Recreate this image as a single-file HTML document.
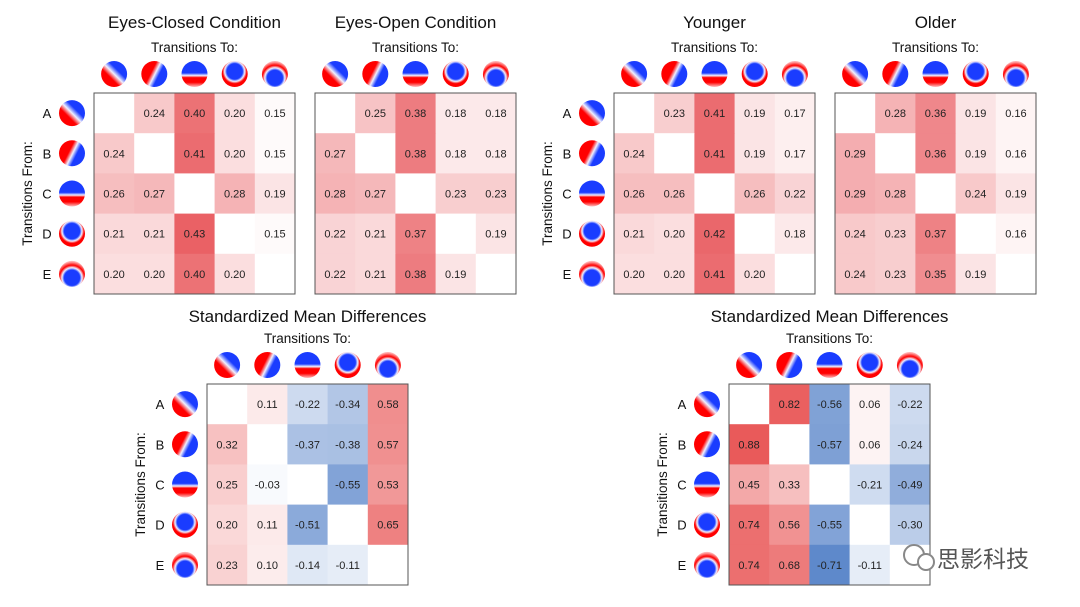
<!DOCTYPE html>
<html><head><meta charset="utf-8"><style>
html,body{margin:0;padding:0;background:#fff;}
svg{display:block;font-family:"Liberation Sans",Arial,sans-serif;}
</style></head><body>
<svg id="fig" width="1080" height="607" viewBox="0 0 1080 607" xmlns="http://www.w3.org/2000/svg">
<defs>
<linearGradient id="gA" x1="0" y1="1" x2="1" y2="0"><stop offset="0" stop-color="#f00"/><stop offset="0.36" stop-color="#f00"/><stop offset="0.5" stop-color="#f0f0ff"/><stop offset="0.64" stop-color="#1a3cff"/><stop offset="1" stop-color="#1a3cff"/></linearGradient>
<linearGradient id="gB" x1="0" y1="0.25" x2="1" y2="0.75"><stop offset="0" stop-color="#f00"/><stop offset="0.38" stop-color="#f00"/><stop offset="0.52" stop-color="#f0f0ff"/><stop offset="0.66" stop-color="#1a3cff"/><stop offset="1" stop-color="#1a3cff"/></linearGradient>
<linearGradient id="gC" x1="0" y1="0" x2="0" y2="1"><stop offset="0" stop-color="#1a3cff"/><stop offset="0.46" stop-color="#1a3cff"/><stop offset="0.56" stop-color="#f0f0ff"/><stop offset="0.64" stop-color="#f00"/><stop offset="0.82" stop-color="#f00"/><stop offset="1" stop-color="#ffc0c0"/></linearGradient>
<radialGradient id="gD" cx="0.5" cy="0.4" r="0.6"><stop offset="0" stop-color="#1a3cff"/><stop offset="0.5" stop-color="#1a3cff"/><stop offset="0.64" stop-color="#f0f0ff"/><stop offset="0.78" stop-color="#f00"/><stop offset="1" stop-color="#f00"/></radialGradient>
<radialGradient id="gE" cx="0.5" cy="0.65" r="0.62"><stop offset="0" stop-color="#1a3cff"/><stop offset="0.48" stop-color="#1a3cff"/><stop offset="0.62" stop-color="#f0f0ff"/><stop offset="0.78" stop-color="#f00"/><stop offset="1" stop-color="#ffb0b0"/></radialGradient>
</defs>
<g id="root"></g>
<g>
<circle cx="914" cy="555" r="10" fill="none" stroke="#888" stroke-width="2"/>
<circle cx="926" cy="562" r="8" fill="#fff" stroke="#888" stroke-width="2"/>
<text x="937" y="567" font-size="23" fill="#555" font-family="'Liberation Sans','Noto Sans CJK SC',sans-serif">思影科技</text>
</g>
</svg>
<script>
const labels = ["A","B","C","D","E"];
const ecVals = [[null,.24,.40,.20,.15],[.24,null,.41,.20,.15],[.26,.27,null,.28,.19],[.21,.21,.43,null,.15],[.20,.20,.40,.20,null]];
const eoVals = [[null,.25,.38,.18,.18],[.27,null,.38,.18,.18],[.28,.27,null,.23,.23],[.22,.21,.37,null,.19],[.22,.21,.38,.19,null]];
const yVals = [[null,.23,.41,.19,.17],[.24,null,.41,.19,.17],[.26,.26,null,.26,.22],[.21,.20,.42,null,.18],[.20,.20,.41,.20,null]];
const oVals = [[null,.28,.36,.19,.16],[.29,null,.36,.19,.16],[.29,.28,null,.24,.19],[.24,.23,.37,null,.16],[.24,.23,.35,.19,null]];
const smd1Vals = [[null,.11,-.22,-.34,.58],[.32,null,-.37,-.38,.57],[.25,-.03,null,-.55,.53],[.20,.11,-.51,null,.65],[.23,.10,-.14,-.11,null]];
const smd2Vals = [[null,.82,-.56,.06,-.22],[.88,null,-.57,.06,-.24],[.45,.33,null,-.21,-.49],[.74,.56,-.55,null,-.30],[.74,.68,-.71,-.11,null]];

const NS="http://www.w3.org/2000/svg";
const root=document.getElementById('root');
const C=40.2;
function mk(tag,attrs,parent){const e=document.createElementNS(NS,tag);for(const k in attrs)e.setAttribute(k,attrs[k]);(parent||root).appendChild(e);return e;}
function probColor(v){let t=Math.max(0,Math.min(1,(v-0.14)/0.34));return `rgb(${Math.round(255-25*t)},${Math.round(255-185*t)},${Math.round(255-180*t)})`;}
function smdColor(v){if(v>=0){let t=Math.min(1,v/0.85);return `rgb(${Math.round(255-22*t)},${Math.round(255-165*t)},${Math.round(255-165*t)})`;}let t=Math.min(1,-v/0.75);return `rgb(${Math.round(255-170*t)},${Math.round(255-125*t)},${Math.round(255-55*t)})`;}
function head(cx,cy,i,g,name){const c=mk('circle',{cx:cx,cy:cy,r:13,fill:'url(#g'+labels[i]+')'},g);}

function panel(name,title,x0,y0,vals,colorFn,rowHeads,fmt,titleDy){
  const g=mk('g',{});
  
  
  const cx=x0+2.5*C;
  const t=mk('text',{x:cx,y:y0-65+titleDy,'text-anchor':'middle','font-size':17,fill:'#111'},g);t.textContent=title;
  
  
  const st=mk('text',{x:cx,y:y0-41,'text-anchor':'middle','font-size':13.5,fill:'#111'},g);st.textContent='Transitions To:';
  
  
  for(let j=0;j<5;j++)head(x0+(j+.5)*C,y0-19,j,g,'column-topomap-'+labels[j]);
  for(let i=0;i<5;i++)for(let j=0;j<5;j++){
    const v=vals[i][j];
    const r=mk('rect',{x:x0+j*C,y:y0+i*C,width:C+0.5,height:C+0.5,fill:v==null?'#fff':colorFn(v)},g);
    
    
    if(v!=null){const tx=mk('text',{x:x0+(j+.5)*C,y:y0+(i+.5)*C+4,'text-anchor':'middle','font-size':11,fill:'#222'},g);tx.textContent=fmt(v);
      
      }
  }
  const b=mk('rect',{x:x0,y:y0,width:5*C,height:5*C,fill:'none',stroke:'#555','stroke-width':1},g);
  
  
  if(rowHeads){
    for(let i=0;i<5;i++){
      head(x0-22,y0+(i+.5)*C,i,g,'row-topomap-'+labels[i]);
      const l=mk('text',{x:x0-47,y:y0+(i+.5)*C+5,'text-anchor':'middle','font-size':13,fill:'#111'},g);l.textContent=labels[i];
      
      
    }
    const yc=y0+2.5*C;
    const f=mk('text',{x:x0-62,y:yc,'text-anchor':'middle','font-size':13.5,fill:'#111',transform:`rotate(-90 ${x0-62} ${yc})`},g);f.textContent='Transitions From:';
    
    
  }
}
const f2=v=>v.toFixed(2);
panel('eyes-closed-matrix','Eyes-Closed Condition',94,93,ecVals,probColor,true,f2,0);
panel('eyes-open-matrix','Eyes-Open Condition',315,93,eoVals,probColor,false,f2,0);
panel('younger-matrix','Younger',614,93,yVals,probColor,true,f2,0);
panel('older-matrix','Older',835,93,oVals,probColor,false,f2,0);
panel('smd-condition-matrix','Standardized Mean Differences',207,384,smd1Vals,smdColor,true,f2,3);
panel('smd-age-matrix','Standardized Mean Differences',729,384,smd2Vals,smdColor,true,f2,3);
</script>
</body></html>
